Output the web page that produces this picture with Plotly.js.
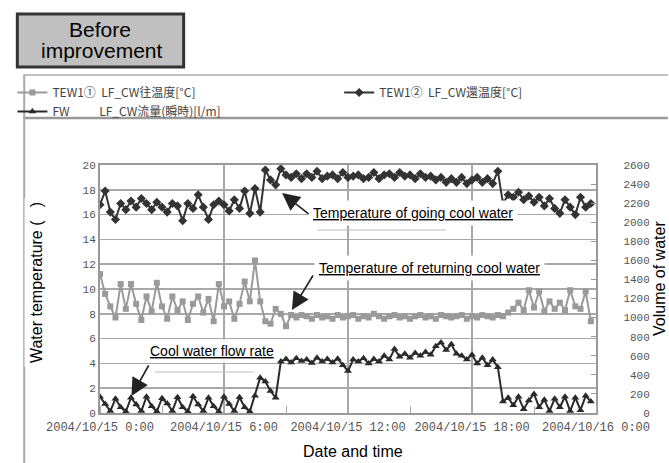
<!DOCTYPE html>
<html>
<head>
<meta charset="utf-8">
<script src="https://cdn.plot.ly/plotly-3.0.1.min.js"></script>
<style>html,body{margin:0;padding:0;background:#fff;}#chart{width:669px;height:463px;}</style>
</head>
<body>
<div id="chart"></div>
<script>
// Sample interval: 15 minutes from 2004/10/15 0:00
const stepMinutes = 15;

// TEW1① LF_CW往温度 [°C] (gray, ~8 °C)
const tempGray = [
 11.2, 9.6, 8.6, 7.7, 10.4, 8.4, 10.4, 8.8, 7.5, 9.4, 8.2, 10.5,
 8.6, 7.6, 9.4, 8.3, 9.0, 7.5, 8.8, 9.4, 8.1, 9.2, 7.4, 10.4,
 8.6, 9.0, 7.6, 8.8, 10.6, 9.0, 12.3, 9.0, 7.4, 7.2, 8.4, 8.0,
 7.0, 7.9, 7.7, 7.9, 7.8, 7.6, 7.9, 7.7, 7.8, 7.6, 7.9, 7.7,
 7.8, 7.9, 7.6, 7.8, 7.7, 8.0, 7.8, 7.6, 7.8, 7.9, 7.7, 7.8,
 7.6, 7.8, 7.9, 7.7, 7.8, 7.6, 7.9, 7.8, 7.7, 7.8, 7.9, 7.6,
 7.8, 7.7, 7.9, 7.8, 7.7, 7.9, 7.8, 8.1, 8.4, 8.9, 8.3, 9.9,
 8.5, 9.8, 8.2, 9.0, 8.4, 8.9, 8.3, 9.9, 8.6, 8.4, 9.8, 7.4
];

// TEW1② LF_CW還温度 [°C] (black diamonds, ~16-19 °C)
const tempBlack = [
 16.8, 17.9, 16.2, 15.6, 16.9, 16.4, 17.1, 16.6, 17.3, 16.9, 16.4, 17.0,
 16.6, 16.2, 16.9, 16.7, 15.5, 16.9, 16.5, 17.6, 16.6, 15.6, 16.8, 17.1,
 16.8, 16.3, 17.2, 16.5, 17.9, 16.1, 18.1, 16.2, 19.6, 18.8, 18.4, 19.7,
 19.2, 19.0, 19.3, 18.9, 19.3, 19.0, 19.5, 18.9, 19.1, 19.2, 18.9, 19.4,
 19.0, 19.1, 19.2, 18.9, 19.0, 19.4, 18.9, 19.2, 19.3, 19.0, 19.4, 19.1,
 19.2, 18.9, 19.3, 19.0, 19.1, 18.8, 19.0, 18.6, 18.9, 18.6, 19.0, 18.5,
 18.8, 19.0, 18.6, 18.9, 18.5, 19.5, 16.9, 17.6, 17.4, 17.8, 17.2, 17.5,
 17.0, 17.4, 16.7, 17.3, 16.5, 16.1, 17.2, 16.6, 16.0, 17.4, 16.6, 16.9
];

// FW LF_CW流量(瞬時) [l/m] (right axis)
const flow = [
 170, 95, 20, 150, 60, 15, 160, 90, 20, 170, 70, 15,
 155, 100, 20, 165, 60, 15, 175, 90, 20, 160, 70, 15,
 170, 95, 20, 165, 60, 15, 180, 370, 330, 230, 160, 540,
 565, 530, 575, 545, 560, 525, 580, 540, 565, 530, 570, 500,
 440, 560, 540, 575, 520, 565, 540, 600, 560, 670, 590, 620,
 580, 630, 600, 640, 610, 700, 740, 660, 720, 620, 600, 560,
 610, 520, 580, 500, 560, 480, 120, 160, 80, 170, 40, 130,
 200, 60, 140, 20, 150, 60, 170, 20, 160, 30, 180, 120
];

const nb = n => '\u00a0'.repeat(n);
const seriesNames = [
 'TEW1①' + nb(2) + 'LF_CW往温度[°C]',
 'TEW1②' + nb(2) + 'LF_CW還温度[°C]',
 'FW' + nb(11) + 'LF_CW流量(瞬時)[l/m]'
];

const leftTicks = [0, 2, 4, 6, 8, 10, 12, 14, 16, 18, 20];
const rightTicks = [0, 200, 400, 600, 800, 1000, 1200, 1400, 1600, 1800, 2000, 2200, 2400, 2600];

function pad(n){return String(n).padStart(2,'0');}
const times = tempGray.map((_, i) => {
  const m = i * stepMinutes;
  return '2004-10-15 ' + pad(Math.floor(m/60)) + ':' + pad(m%60) + ':00';
});

const rightText = rightTicks.map(v => String(v).padStart(8, '\u00a0'));

const px = x => (x - 92) / 504;
const py = y => (413 - y) / 248;

const traces = [
  {x: times, y: tempGray, name: seriesNames[0], type: 'scatter', mode: 'lines+markers', legend: 'legend',
   line: {color: '#9a9a9a', width: 2}, marker: {symbol: 'square', size: 6, color: '#9a9a9a'}},
  {x: times, y: tempBlack, name: seriesNames[1], type: 'scatter', mode: 'lines+markers', legend: 'legend2',
   line: {color: '#333', width: 2}, marker: {symbol: 'diamond', size: 7, color: '#333'}},
  {x: times, y: flow, name: seriesNames[2], type: 'scatter', mode: 'lines+markers', yaxis: 'y2', legend: 'legend',
   line: {color: '#2a2a2a', width: 2}, marker: {symbol: 'triangle-up', size: 7, color: '#2a2a2a'}}
];

const tickFont = {family: 'Liberation Mono', size: 12, color: '#555'};
const yTickFont = {family: 'Liberation Mono', size: 11, color: '#555'};
const labFont = {family: 'Liberation Sans, Arial', size: 16, color: '#000'};
const annFont = {family: 'Liberation Sans, Arial', size: 14, color: '#000'};
const legFont = {family: 'Noto Sans CJK JP', size: 12, color: '#444'};

function note(x, y, text, extra) {
  return Object.assign({xref: 'paper', yref: 'paper', x: px(x), y: py(y), text: text,
    showarrow: false, xanchor: 'center', yanchor: 'middle'}, extra || {});
}
function arrow(x, y, ax, ay) {
  return {xref: 'paper', yref: 'paper', x: px(x), y: py(y), ax: ax, ay: ay, text: '',
    showarrow: true, arrowhead: 2, arrowsize: 2.2, arrowwidth: 1.6, arrowcolor: '#222', standoff: 0};
}

const layout = {
  width: 669, height: 463,
  margin: {l: 92, r: 73, t: 165, b: 50},
  paper_bgcolor: '#fff', plot_bgcolor: '#fff',
  showlegend: true,
  legend: {orientation: 'v', x: px(3), y: py(78), xanchor: 'left', yanchor: 'top',
    font: legFont, bgcolor: 'rgba(0,0,0,0)', tracegroupgap: 0},
  legend2: {orientation: 'v', x: px(335), y: py(78), xanchor: 'left', yanchor: 'top',
    font: legFont, bgcolor: 'rgba(0,0,0,0)'},
  xaxis: {type: 'date', range: ['2004-10-15 00:00', '2004-10-16 00:00'],
    dtick: 6*3600*1000, tick0: '2004-10-15 00:00', tickformat: '%Y/%m/%d %-H:%M',
    showgrid: true, gridcolor: '#a8a8a8', gridwidth: 1.5,
    showline: true, linecolor: '#999', linewidth: 2, mirror: true,
    ticks: 'outside', ticklen: 2, tickcolor: 'rgba(0,0,0,0)', tickfont: tickFont, zeroline: false,
    minor: {dtick: 3*3600*1000, ticks: 'inside', ticklen: 7, tickcolor: '#aaa', showgrid: false}},
  yaxis: {range: [0, 20], tickvals: leftTicks, showgrid: true, gridcolor: '#a8a8a8', gridwidth: 1.5,
    showline: true, linecolor: '#999', linewidth: 2, mirror: true, zeroline: false,
    ticks: '', tickfont: yTickFont},
  yaxis2: {overlaying: 'y', side: 'right', range: [0, 2600], tickvals: rightTicks, ticktext: rightText,
    showgrid: false, zeroline: false, ticks: 'inside', ticklen: 5, tickcolor: '#999',
    tickfont: yTickFont, showline: false},
  shapes: [
    {type: 'line', xref: 'paper', yref: 'paper', x0: px(14), x1: px(669), y0: py(75), y1: py(75), line: {color: '#aaa', width: 1.5}},
    {type: 'line', xref: 'paper', yref: 'paper', x0: px(14), x1: px(669), y0: py(118), y1: py(118), line: {color: '#999', width: 2.5}},
    {type: 'line', xref: 'paper', yref: 'paper', x0: px(15), x1: px(15), y0: py(75), y1: py(463), line: {color: '#aaa', width: 2}},
    {type: 'line', xref: 'paper', yref: 'paper', x0: px(313), x1: px(443), y0: py(230), y1: py(230), line: {color: '#bbb', width: 1}},
    {type: 'line', xref: 'paper', yref: 'paper', x0: px(148), x1: px(248), y0: py(372), y1: py(372), line: {color: '#bbb', width: 1}},
    {type: 'rect', xref: 'paper', yref: 'paper', x0: px(8), x1: px(177), y0: py(14), y1: py(67), fillcolor: '#c0c0c0', line: {color: '#333', width: 3}}
  ],
  annotations: [
    note(92.5, 30, 'Before', {font: {family: 'Liberation Sans, Arial', size: 21, color: '#000'}}),
    note(94, 51, 'improvement', {font: {family: 'Liberation Sans, Arial', size: 21, color: '#000'}}),
    note(303, 213, '<u>Temperature of going cool water</u>', {xanchor: 'left', font: annFont, bgcolor: '#fff', borderpad: 4}),
    note(309, 268, '<u>Temperature of returning cool water</u>', {xanchor: 'left', font: annFont, bgcolor: '#fff', borderpad: 4}),
    note(139, 351, '<u>Cool water flow rate</u>', {xanchor: 'left', font: annFont, bgcolor: '#fff', borderpad: 3}),
    arrow(277, 193, 28, 22),
    arrow(287, 310, 22, -36),
    arrow(124, 396, 18, -32),
    note(27, 283, 'Water temperature (' + nb(3) + ')', {textangle: -90, font: labFont, bgcolor: '#fff', borderpad: 3}),
    note(660, 278, 'Volume of water', {textangle: -90, font: labFont, bgcolor: '#fff', borderpad: 1}),
    note(349, 451, 'Date and time', {font: labFont, bgcolor: '#fff', borderpad: 2})
  ]
};

Plotly.newPlot('chart', traces, layout, {staticPlot: true, displayModeBar: false});
</script>
</body>
</html>
